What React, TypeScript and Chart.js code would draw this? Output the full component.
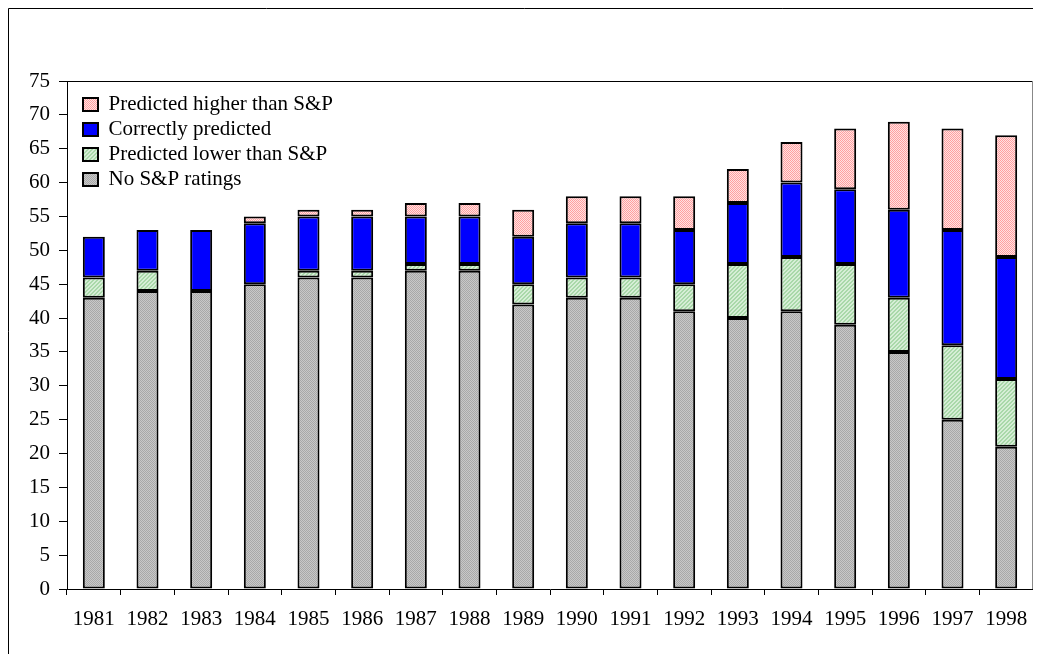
import React, { useEffect, useRef } from "react";
import { Chart, registerables } from "chart.js";

Chart.register(...registerables);

const years = ["1981","1982","1983","1984","1985","1986","1987","1988","1989","1990","1991","1992","1993","1994","1995","1996","1997","1998"];
const noRatings = [43, 44, 44, 45, 46, 46, 47, 47, 42, 43, 43, 41, 40, 41, 39, 35, 25, 21];
const predictedLower = [3, 3, 0, 0, 1, 1, 1, 1, 3, 3, 3, 4, 8, 8, 9, 8, 11, 10];
const correctlyPredicted = [6, 6, 9, 9, 8, 8, 7, 7, 7, 8, 8, 8, 9, 11, 11, 13, 17, 18];
const predictedHigher = [0, 0, 0, 1, 1, 1, 2, 2, 4, 4, 4, 5, 5, 6, 9, 13, 15, 18];

const FONT = "'Liberation Serif', 'Times New Roman', serif";

function makePattern(base: string, dot: string, kind: "checker" | "diag") {
  const c = document.createElement("canvas");
  c.width = 4;
  c.height = 4;
  const g = c.getContext("2d")!;
  g.fillStyle = base;
  g.fillRect(0, 0, 4, 4);
  g.fillStyle = dot;
  for (let y = 0; y < 4; y++) {
    for (let x = 0; x < 4; x++) {
      const on = kind === "checker" ? (x + y) % 2 === 0 : (x + y) % 4 === 0 || (x + y) % 4 === 1;
      if (on) g.fillRect(x, y, 1, 1);
    }
  }
  const t = document.createElement("canvas").getContext("2d")!;
  return t.createPattern(c, "repeat")!;
}

export default function App() {
  const ref = useRef<HTMLCanvasElement>(null);
  useEffect(() => {
    document.body.style.overflow = "hidden";
    const grayP = makePattern("#c8c8c8", "#a8a8a8", "checker");
    const greenP = makePattern("#d6eed6", "#a9d8a9", "diag");
    const redP = makePattern("#ffe2e2", "#ffa0a0", "checker");

    const framePlugin = {
      id: "framePlugin",
      afterLayout(chart: any) {
        const l = chart.legend;
        const ca = chart.chartArea;
        if (l) {
          const h = l.height;
          const w = l.width;
          l.left = ca.left + 12;
          l.right = l.left + w;
          l.top = ca.top + 9;
          l.bottom = l.top + h;
        }
      },
      afterDraw(chart: any) {
        const { ctx, chartArea } = chart;
        ctx.save();
        ctx.strokeStyle = "#000";
        ctx.lineWidth = 1;
        ctx.beginPath();
        ctx.moveTo(0.5, chart.height);
        ctx.lineTo(0.5, 0.5);
        ctx.lineTo(chart.width, 0.5);
        ctx.stroke();
        ctx.beginPath();
        ctx.moveTo(chartArea.left, Math.round(chartArea.top) + 0.5);
        ctx.lineTo(chartArea.right, Math.round(chartArea.top) + 0.5);
        ctx.stroke();
        ctx.strokeStyle = "#888";
        ctx.lineWidth = 2;
        ctx.beginPath();
        ctx.moveTo(Math.round(chartArea.right), chartArea.top);
        ctx.lineTo(Math.round(chartArea.right), chartArea.bottom);
        ctx.stroke();
        ctx.restore();
      },
    };

    const common = {
      borderColor: "#000",
      borderWidth: 2,
      borderSkipped: false,
      barPercentage: 0.41,
      categoryPercentage: 1,
    };

    const chart = new Chart(ref.current!, {
      type: "bar",
      data: {
        labels: years,
        datasets: [
          { label: "No S&P ratings", data: noRatings, backgroundColor: grayP, ...common },
          { label: "Predicted lower than S&P", data: predictedLower, backgroundColor: greenP, ...common },
          { label: "Correctly predicted", data: correctlyPredicted, backgroundColor: "#0000ff", ...common },
          { label: "Predicted higher than S&P", data: predictedHigher, backgroundColor: redP, ...common },
        ],
      } as any,
      options: {
        animation: false,
        responsive: false,
        layout: { padding: { top: 73, right: 8, left: 0, bottom: 0 } },
        plugins: {
          tooltip: { enabled: false },
          legend: {
            position: "chartArea" as any,
            align: "start",
            reverse: true,
            labels: {
              boxWidth: 15,
              boxHeight: 13,
              padding: 4,
              color: "#000",
              font: { family: FONT, size: 21 },
            },
          },
        },
        scales: {
          x: {
            stacked: true,
            afterFit: (s: any) => { s.height = 65; },
            grid: { drawOnChartArea: false, color: "#000", tickLength: 6, offset: true },
            border: { color: "#000", width: 1 },
            ticks: { color: "#000", padding: 12, maxRotation: 0, autoSkip: false, font: { family: FONT, size: 21 } },
          },
          y: {
            stacked: true,
            min: 0,
            max: 75,
            afterFit: (s: any) => { s.width = 59; },
            grid: { drawOnChartArea: false, color: "#000", tickLength: 8 },
            border: { color: "#000", width: 1 },
            ticks: { stepSize: 5, color: "#000", padding: 9, font: { family: FONT, size: 21 } },
          },
        },
      },
      plugins: [framePlugin],
    });
    return () => chart.destroy();
  }, []);
  return (
    <div style={{ width: 1033, height: 646 }}>
      <canvas ref={ref} width={1033} height={646} style={{ display: "block" }} />
    </div>
  );
}
